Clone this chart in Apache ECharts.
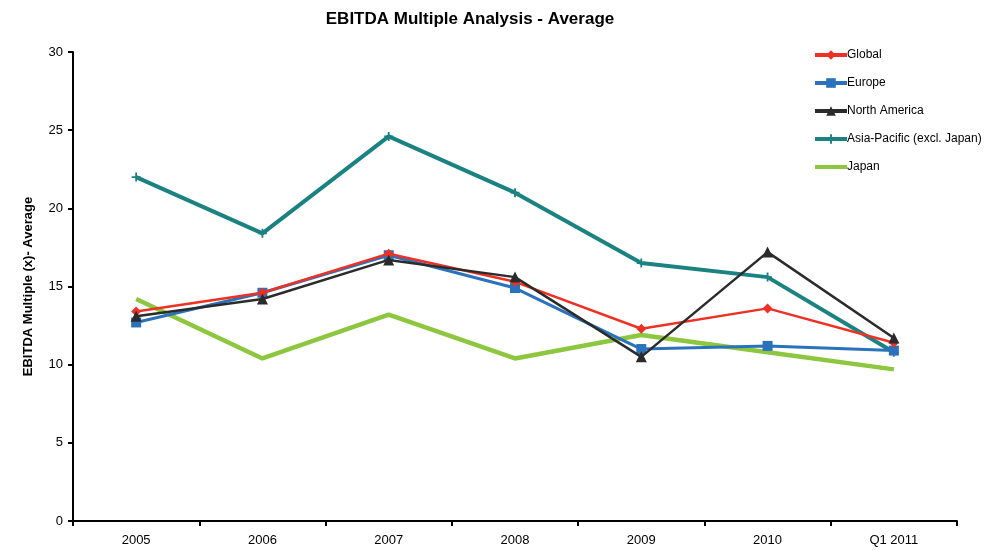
<!DOCTYPE html>
<html>
<head>
<meta charset="utf-8">
<script src="https://cdn.jsdelivr.net/npm/echarts@6/dist/echarts.min.js"></script>
<style>html,body{margin:0;padding:0;background:#fff}#c{width:1000px;height:550px}</style>
</head>
<body>
<div id="c"></div>
<script>
const categories = ['2005', '2006', '2007', '2008', '2009', '2010', 'Q1 2011'];
const globalVals = [13.4, 14.6, 17.1, 15.3, 12.3, 13.6, 11.4];
const europeVals = [12.7, 14.6, 17.0, 14.9, 11.0, 11.2, 10.9];
const northAmericaVals = [13.1, 14.2, 16.7, 15.6, 10.5, 17.2, 11.7];
const asiaPacificVals = [22.0, 18.4, 24.6, 21.0, 16.5, 15.6, 10.8];
const japanVals = [14.2, 10.4, 13.2, 10.4, 11.9, 10.8, 9.7];
const yTicks = [0, 5, 10, 15, 20, 25, 30];

const font = 'Liberation Sans, Arial, sans-serif';
const chart = echarts.init(document.getElementById('c'));
chart.setOption({
  animation: false,
  backgroundColor: '#fff',
  title: {
    text: 'EBITDA Multiple Analysis - Average',
    left: 465, top: 6, textAlign: 'center',
    textStyle: { fontFamily: font, fontSize: 17, fontWeight: 'bold', color: '#000' }
  },
  legend: {
    orient: 'vertical', left: 808, top: 44, itemGap: 16,
    itemWidth: 32, itemHeight: 12,
    lineStyle: { width: 4 },
    textStyle: { fontFamily: font, fontSize: 12, color: '#000', padding: [0, 0, 0, -5] },
    data: [
      { name: 'Global' },
      { name: 'Europe' },
      { name: 'North America' },
      { name: 'Asia-Pacific (excl. Japan)' },
      { name: 'Japan', icon: 'path://M0,4H32V8H0Z' }
    ]
  },
  grid: { left: 73, right: 43, top: 52, bottom: 29 },
  xAxis: {
    type: 'category', data: categories, boundaryGap: true,
    axisLine: { lineStyle: { color: '#000', width: 2 } },
    axisTick: { show: true, length: 5, lineStyle: { color: '#000', width: 2 }, alignWithLabel: false },
    axisLabel: { fontFamily: font, fontSize: 13, color: '#000', margin: 13 }
  },
  yAxis: {
    type: 'value', min: yTicks[0], max: yTicks[yTicks.length - 1], interval: 5,
    name: 'EBITDA Multiple (x)- Average', nameLocation: 'middle', nameGap: 38,
    nameTextStyle: { fontFamily: font, fontSize: 13, fontWeight: 'bold', color: '#000' },
    axisLine: { show: true, lineStyle: { color: '#000', width: 2 } },
    axisTick: { show: true, length: 5, lineStyle: { color: '#000', width: 2 } },
    axisLabel: { fontFamily: font, fontSize: 13, color: '#000', margin: 10 },
    splitLine: { show: false }
  },
  series: [
    { name: 'Global', type: 'line', data: globalVals, symbol: 'diamond', symbolSize: 10,
      itemStyle: { color: '#EE3124' }, lineStyle: { width: 2.5, color: '#EE3124' }, z: 4 },
    { name: 'Europe', type: 'line', data: europeVals, symbol: 'rect', symbolSize: 10,
      itemStyle: { color: '#2A72BC' }, lineStyle: { width: 3, color: '#2A72BC' }, z: 3 },
    { name: 'North America', type: 'line', data: northAmericaVals, symbol: 'triangle', symbolSize: 11,
      itemStyle: { color: '#2B2B2B' }, lineStyle: { width: 2.5, color: '#2B2B2B' }, z: 5 },
    { name: 'Asia-Pacific (excl. Japan)', type: 'line', data: asiaPacificVals,
      symbol: 'path://M4,0H6V4H10V6H6V10H4V6H0V4H4Z', symbolSize: 9,
      itemStyle: { color: '#1A8280' }, lineStyle: { width: 4, color: '#1A8280' }, z: 2 },
    { name: 'Japan', type: 'line', data: japanVals, symbol: 'none',
      itemStyle: { color: '#8DC63F' }, lineStyle: { width: 4.5, color: '#8DC63F' }, z: 1 }
  ]
});
</script>
</body>
</html>
